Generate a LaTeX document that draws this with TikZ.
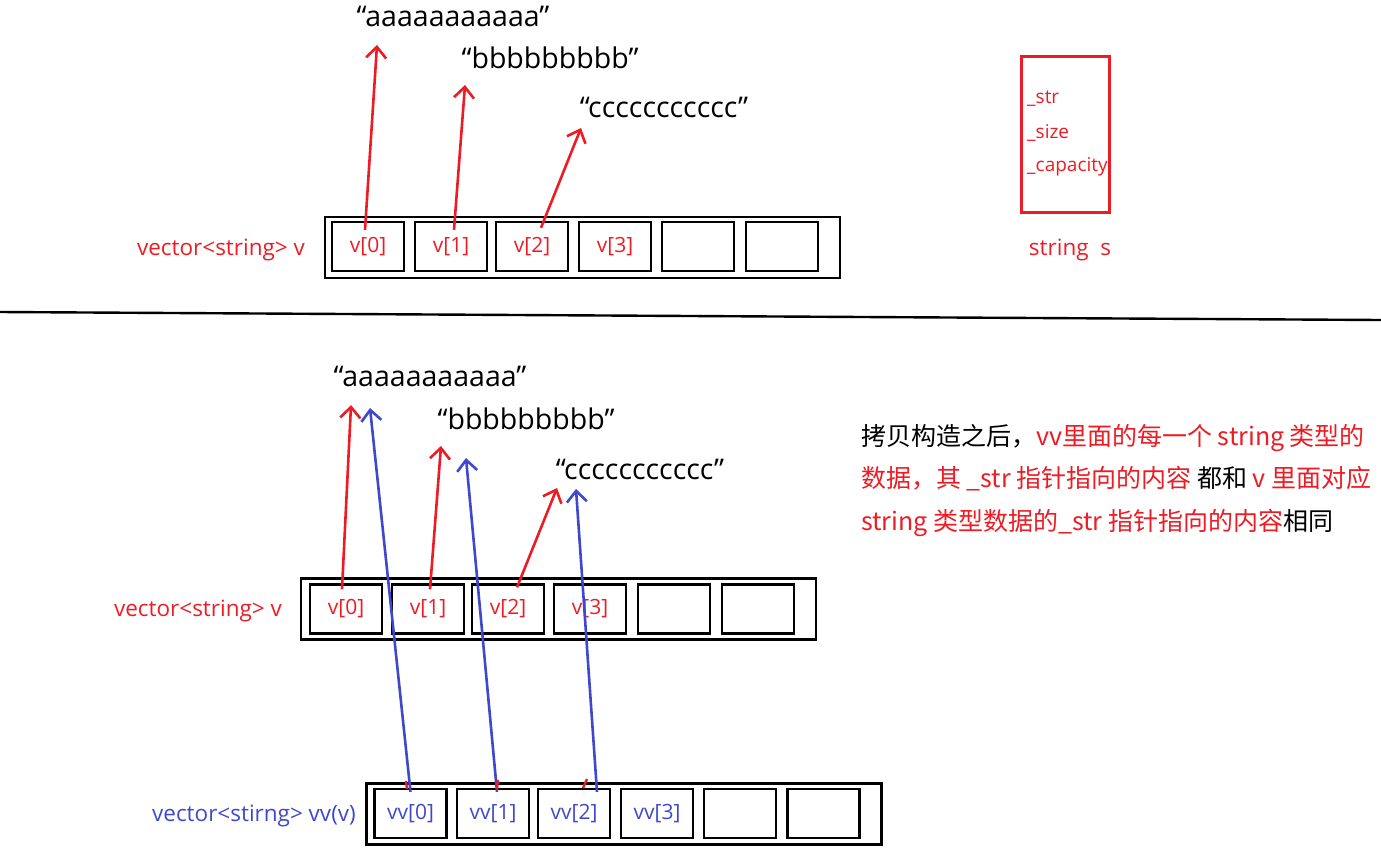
\documentclass[tikz,border=0pt]{standalone}
\usepackage{fontspec}
\setmainfont{Open Sans}
\newfontfamily\cjk{Noto Sans CJK SC}
\usetikzlibrary{arrows.meta}
\definecolor{paintred}{RGB}{237,28,36}
\definecolor{paintblue}{RGB}{63,72,204}
\tikzset{
  slot/.style={draw=black, line width=2.4pt, minimum width=72pt, minimum height=49pt,
    inner sep=0pt, font=\fontsize{21}{24}\selectfont},
  redslot/.style={slot, text=paintred},
  blueslot/.style={slot, text=paintblue},
  vecbox/.style={draw=black, line width=2.6pt, minimum width=515pt, minimum height=61pt,
    inner sep=0pt},
  strtext/.style={font=\fontsize{28.5}{32}\selectfont, text=black, inner sep=0pt},
  redlabel/.style={font=\fontsize{22.5}{25}\selectfont, text=paintred, inner sep=0pt},
  bluelabel/.style={redlabel, text=paintblue},
  field/.style={font=\fontsize{19}{22}\selectfont, text=paintred, inner sep=0pt, anchor=west},
  ptr/.style={-{Straight Barb[length=11pt,width=20pt]}, line width=2.6pt, draw=paintred},
  copyptr/.style={ptr, draw=paintblue},
  note/.style={font=\cjk\fontsize{25}{42.5}\selectfont, align=left, inner sep=0pt,
    anchor=north west},
}

\begin{document}
\begin{tikzpicture}[x=1pt,y=-1pt]
\useasboundingbox (0,0) rectangle (1381,852);
% before the copy
\node[redlabel] (vtoplabel) at (221,250) {vector<string> v};
\node[vecbox] (vtop) at (582.5,247.5) {};
\node[redslot] (t0) at (368,246.5) {v[0]};
\node[redslot] (t1) at (451,246.5) {v[1]};
\node[redslot] (t2) at (532,246.5) {v[2]};
\node[redslot] (t3) at (615,246.5) {v[3]};
\node[slot] (t4) at (698,246.5) {};
\node[slot] (t5) at (782,246.5) {};
\node[strtext] (sa) at (453,16) {“aaaaaaaaaaa”};
\node[strtext] (sb) at (550,58) {“bbbbbbbbb”};
\node[strtext] (sc) at (664,107) {“ccccccccccc”};
\coordinate (tipa) at (377,45);
\coordinate (tipb) at (465,85);
\coordinate (tipc) at (581,128);
\draw[ptr] ([xshift=-3pt,yshift=-9pt]t0.north) -- (tipa);
\draw[ptr] ([xshift=3pt,yshift=-9pt]t1.north) -- (tipb);
\draw[ptr] ([xshift=9pt,yshift=-7pt]t2.north) -- (tipc);
% one string object
\node[draw=paintred, line width=2.6pt, minimum width=88pt, minimum height=156pt]
  (sbox) at (1065.5,134.5) {};
\node[field] (fstr) at (1027,99) {\_str};
\node[field] (fsize) at (1027,133) {\_size};
\node[field] (fcap) at (1027,167) {\_capacity};
\node[redlabel] (slabel) at (1070,250) {string~~s};
% divider
\draw[line width=2.4pt] (0,312) -- (1381,320);
% after the copy
\node[redlabel] (vmidlabel) at (198,611) {vector<string> v};
\node[vecbox] (vmid) at (558.5,609) {};
\node[redslot] (m0) at (346,609) {v[0]};
\node[redslot] (m1) at (428,609) {v[1]};
\node[redslot] (m2) at (508,609) {v[2]};
\node[redslot] (m3) at (590,609) {v[3]};
\node[slot] (m4) at (674,609) {};
\node[slot] (m5) at (758,609) {};
\node[strtext] (ma) at (430,376) {“aaaaaaaaaaa”};
\node[strtext] (mb) at (526,419) {“bbbbbbbbb”};
\node[strtext] (mc) at (640,469) {“ccccccccccc”};
\coordinate (mtipa) at (351,405);
\coordinate (mtipb) at (441,446);
\coordinate (mtipc) at (557,488);
\draw[ptr] ([xshift=-4pt,yshift=-6pt]m0.north) -- (mtipa);
\draw[ptr] ([xshift=2pt,yshift=-6pt]m1.north) -- (mtipb);
\draw[ptr] ([xshift=9pt,yshift=-4pt]m2.north) -- (mtipc);
\node[bluelabel] (vvlabel) at (254,816) {vector<stirng> vv(v)};
\node[vecbox] (vv) at (624,814) {};
\node[blueslot] (b0) at (410.5,813.5) {vv[0]};
\node[blueslot] (b1) at (493,813.5) {vv[1]};
\node[blueslot] (b2) at (574,813.5) {vv[2]};
\node[blueslot] (b3) at (657,813.5) {vv[3]};
\node[slot] (b4) at (740,813.5) {};
\node[slot] (b5) at (823.5,813.5) {};
\coordinate (btipa) at (370,408);
\coordinate (btipb) at (466,458);
\coordinate (btipc) at (576,489);
\draw[copyptr] ([yshift=-4pt]b0.north) -- (btipa);
\draw[copyptr] ([xshift=4pt,yshift=-4pt]b1.north) -- (btipb);
\draw[copyptr] ([xshift=23pt,yshift=-4pt]b2.north) -- (btipc);
\draw[paintred, line width=2.4pt] (406,781) -- (407,789);
\draw[paintred, line width=2.4pt] (498,780) -- (497,789);
\draw[paintred, line width=2.4pt] (587,779) -- (583,788);
\node[note] (remark) at (861,424) {拷贝构造之后，\textcolor{paintred}{vv里面的每一个 string 类型的}\\
  \textcolor{paintred}{数据，其 \_str 指针指向的内容} 都和 \textcolor{paintred}{v 里面对应}\\
  \textcolor{paintred}{string 类型数据的\_str 指针指向的内容}相同};
\end{tikzpicture}
\end{document}
